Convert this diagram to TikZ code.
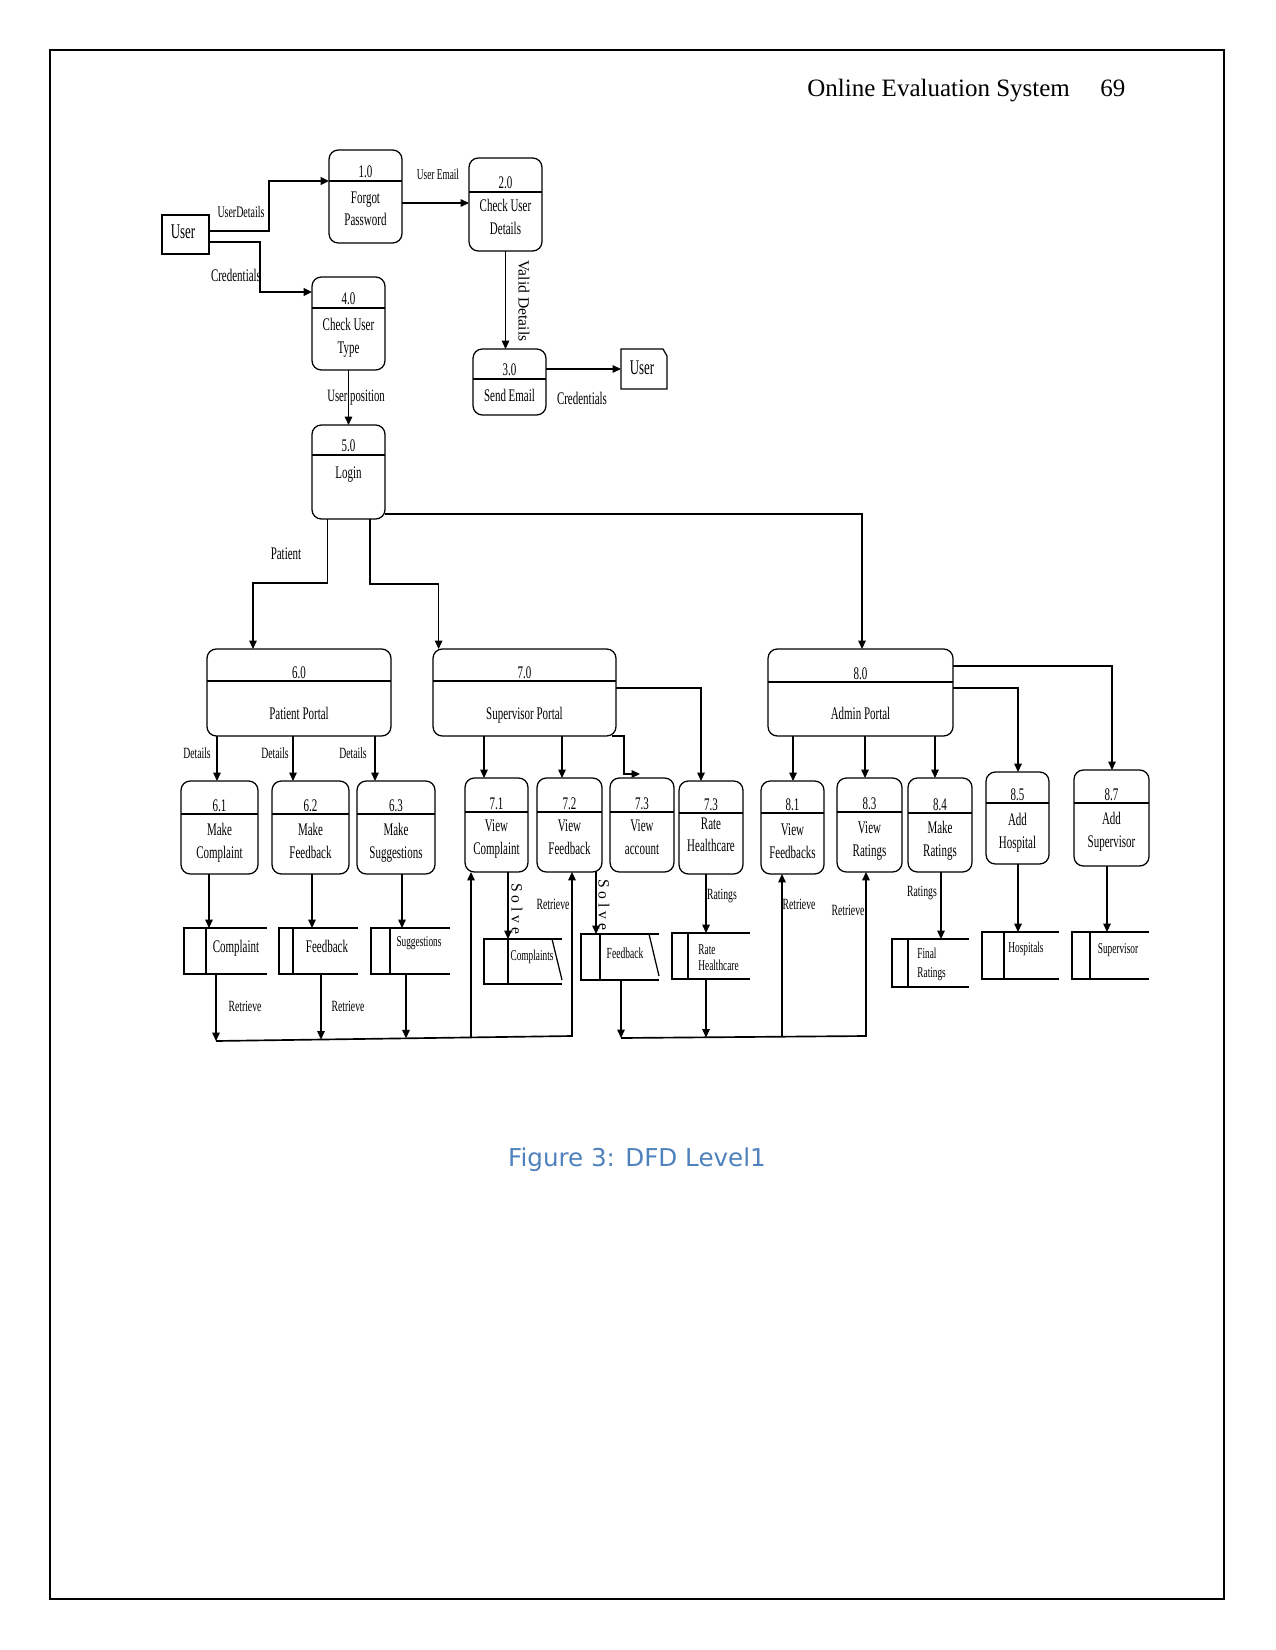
\documentclass[tikz,border=0pt]{standalone}
\usepackage{fontspec}
\setmainfont{Liberation Serif}
\newfontfamily\dfd[FakeStretch=0.62]{Liberation Serif}
\newfontfamily\capfont{DejaVu Sans}
\usetikzlibrary{fit,arrows.meta}
\definecolor{capblue}{RGB}{79,129,189}
\tikzset{
  pbox/.style={draw, rounded corners=4.5pt, inner sep=0pt, outer sep=0pt, line width=0.6pt},
  pdiv/.style={line width=0.6pt},
  ptxt/.style={font=\dfd\fontsize{8.5}{11}\selectfont, inner sep=0pt, align=center},
  stxt/.style={font=\dfd\fontsize{7.2}{8}\selectfont, inner sep=0pt, align=left},
  sbox/.style={line width=0.6pt},
  lbl/.style={font=\dfd\fontsize{7.5}{9}\selectfont, inner sep=0pt},
  lblb/.style={font=\dfd\fontsize{8.5}{10}\selectfont, inner sep=0pt},
  rlbl/.style={font=\fontsize{7.5}{9}\selectfont, inner sep=0pt, rotate=-90},
  flow/.style={-{Triangle[length=4pt,width=3.6pt]}, line width=0.5pt},
  tflow/.style={flow, line width=1.2pt},
  tline/.style={line width=1.2pt},
  mline/.style={line width=0.8pt},
}
% name x1 y1 x2 y2 ydiv number body yfirstline
\newcommand\dfdproc[9]{%
  \node[pbox, fit={(#2,#3)(#4,#5)}] (#1) {};
  \draw[pdiv] (#2,#6) -- (#4,#6);
  \node[ptxt, anchor=base] (#1-no) at ({(#2+#4)/2},{#6-3}) {#7};
  \node[ptxt, anchor=north] (#1-tx) at ({(#2+#4)/2},{#9-6}) {#8};
}
% name x1 y1 x2 y2 xinner
\newcommand\dfdstore[6]{%
  \node[fit={(#2,#3)(#4,#5)}, inner sep=0pt, outer sep=0pt] (#1) {};
  \draw[sbox] (#4,#3) -- (#2,#3) -- (#2,#5) -- (#4,#5);
  \draw[sbox] (#6,#3) -- (#6,#5);
}
\begin{document}
\begin{tikzpicture}[x=0.48pt,y=-0.48pt]
\useasboundingbox (0,0) rectangle (1275,1650);
\draw[line width=0.8pt] (50,50) rectangle (1224,1599);
\node[font=\fontsize{12}{14}\selectfont, anchor=base west, inner sep=0pt] (hdr) at (807,97) {Online Evaluation System};
\node[font=\fontsize{12}{14}\selectfont, anchor=base west, inner sep=0pt] (pgno) at (1100,97) {69};
\node[font=\capfont\fontsize{11.8}{14}\selectfont, text=capblue, anchor=base, inner sep=0pt] (cap) at (637,1166) {Figure 3: DFD Level1};

% external entities
\node[draw, line width=0.6pt, fit={(162,215)(209,254)}, inner sep=0pt, outer sep=0pt] (user) {};
\node[font=\dfd\fontsize{10}{12}\selectfont, inner sep=0pt] (user-tx) at (183,232) {User};
\node[fit={(621,349)(667,389)}, inner sep=0pt, outer sep=0pt] (user2) {};
\draw[line width=0.6pt] (663,349) -- (621,349) -- (621,389) -- (667,389) -- (667,356) -- cycle;
\node[font=\dfd\fontsize{10}{12}\selectfont, inner sep=0pt] (user2-tx) at (642,368) {User};

% processes
\dfdproc{p1}{329}{150}{402}{243}{181}{1.0}{Forgot\\Password}{197}
\dfdproc{p2}{469}{158}{542}{251}{192}{2.0}{Check User\\Details}{205}
\dfdproc{p4}{312}{277}{385}{370}{308}{4.0}{Check User\\Type}{324}
\dfdproc{p3}{473}{349}{546}{415}{379}{3.0}{Send Email}{395}
\dfdproc{p5}{312}{425}{385}{519}{455}{5.0}{Login}{472}
\dfdproc{p6}{207}{649}{391}{736}{681}{6.0}{Patient Portal}{713}
\dfdproc{p7}{433}{649}{616}{736}{681}{7.0}{Supervisor Portal}{713}
\dfdproc{p8}{768}{649}{953}{736}{682}{8.0}{Admin Portal}{713}
\dfdproc{p61}{181}{781}{258}{874}{814}{6.1}{Make\\Complaint}{829}
\dfdproc{p62}{272}{781}{349}{874}{814}{6.2}{Make\\Feedback}{829}
\dfdproc{p63}{357}{781}{435}{874}{814}{6.3}{Make\\Suggestions}{829}
\dfdproc{p71}{465}{778}{528}{872}{812}{7.1}{View\\Complaint}{825}
\dfdproc{p72}{537}{778}{602}{872}{812}{7.2}{View\\Feedback}{825}
\dfdproc{p73a}{610}{778}{674}{872}{812}{7.3}{View\\account}{825}
\dfdproc{p73b}{679}{781}{743}{874}{813}{7.3}{Rate\\Healthcare}{823}
\dfdproc{p81}{761}{781}{824}{874}{813}{8.1}{View\\Feedbacks}{829}
\dfdproc{p83}{837}{778}{902}{872}{812}{8.3}{View\\Ratings}{827}
\dfdproc{p84}{908}{778}{972}{872}{813}{8.4}{Make\\Ratings}{827}
\dfdproc{p85}{986}{772}{1049}{864}{803}{8.5}{Add\\Hospital}{819}
\dfdproc{p87}{1074}{770}{1149}{866}{803}{8.7}{Add\\Supervisor}{818}

% data stores
\dfdstore{s61}{184}{928}{267}{974}{206}
\dfdstore{s62}{279}{928}{358}{974}{293}
\dfdstore{s63}{371}{928}{450}{974}{390}
\dfdstore{s71}{484}{939}{562}{984}{508}
\dfdstore{s72}{581}{934}{659}{980}{600}
\dfdstore{s73}{672}{933}{750}{979}{688}
\dfdstore{s84}{892}{939}{969}{987}{908}
\dfdstore{s85}{982}{932}{1059}{979}{1004}
\dfdstore{s87}{1072}{932}{1149}{979}{1090}
\draw[sbox] (552,939) -- (562,980);
\draw[sbox] (649,934) -- (659,976);
\node[ptxt] (s61-tx) at (236,948) {Complaint};
\node[ptxt] (s62-tx) at (327,946) {Feedback};
\node[stxt] (s63-tx) at (419,943) {Suggestions};
\node[stxt] (s71-tx) at (532,957) {Complaints};
\node[stxt, font=\dfd\fontsize{7.4}{8}\selectfont] (s72-tx) at (625,953) {Feedback};
\node[stxt, anchor=north west] (s73-tx) at (698,944) {Rate\\Healthcare};
\node[stxt, font=\dfd\fontsize{7.2}{9}\selectfont, anchor=north west] (s84-tx) at (917,948) {Final\\Ratings};
\node[stxt] (s85-tx) at (1026,949) {Hospitals};
\node[stxt] (s87-tx) at (1118,950) {Supervisor};

% top connectors
\draw[tflow] (user.east |- 0,231) -| (269,181) -- (p1.west |- 0,181);
\draw[tflow] (user.east |- 0,242) -| (260,292) -- (p4.west |- 0,292);
\draw[flow] (p1.east |- 0,203) -- (p2.west |- 0,203);
\draw[flow] (p2.south) -- (p2.south |- p3.north);
\draw[flow] (p3.east |- 0,369) -- (user2.west |- 0,369);
\draw[flow] (p4.south) -- (p4.south |- p5.north);
\node[lbl, font=\dfd\fontsize{7.7}{9}\selectfont] (l-ud) at (241,212) {UserDetails};
\node[lblb] (l-cr1) at (236,275) {Credentials};
\node[lbl, font=\dfd\fontsize{7.2}{9}\selectfont] (l-ue) at (438,174) {User Email};
\node[rlbl] (l-vd) at (524,301) {Valid Details};
\node[lblb] (l-cr2) at (582,398) {Credentials};
\node[lblb, font=\dfd\fontsize{8.3}{10}\selectfont] (l-up) at (356,398) {User position};

% login to portals
\coordinate (j6) at (327.5,583);
\coordinate (j6b) at (253,583);
\draw[flow] (p5.south -| j6) -- (j6) -- (j6b) -- (p6.north -| j6b);
\draw[tline] (j6) -- (j6b);
\coordinate (j7) at (370,584);
\coordinate (j7b) at (438.6,584);
\draw[flow] (p5.south -| j7) -- (j7) -- (j7b) -- (p7.north -| j7b);
\coordinate (j8) at (862,514);
\draw[flow] (p5.east |- j8) -- (j8) -- (p8.north -| j8);
\draw[tline] (p5.east |- j8) -- (j8);
\node[lblb] (l-pat) at (286,554) {Patient};

% portals to sub-processes
\draw[flow] (p6.south -| 217,0) -- (p61.north -| 217,0);
\draw[flow] (p6.south -| 293,0) -- (p62.north -| 293,0);
\draw[flow] (p6.south -| 375,0) -- (p63.north -| 375,0);
\node[lbl] (l-d1) at (197,753) {Details};
\node[lbl] (l-d2) at (275,753) {Details};
\node[lbl] (l-d3) at (353,753) {Details};
\draw[flow] (p7.south -| 484,0) -- (p71.north -| 484,0);
\draw[flow] (p7.south -| 562,0) -- (p72.north -| 562,0);
\coordinate (j73) at (640,774);
\draw[flow] (p7.south -| 612,0) -| (624,774) -- (j73);
\draw[flow] (p7.east |- 0,688) -| (p73b.north -| 701,0);
\draw[flow] (p8.south -| 793,0) -- (p81.north -| 793,0);
\draw[flow] (p8.south -| 865,0) -- (p83.north -| 865,0);
\draw[flow] (p8.south -| 935,0) -- (p84.north -| 935,0);
\draw[flow] (p8.east |- 0,688) -| (p85.north -| 1018,0);
\coordinate (j87) at (1112,666);
\draw[flow] (p8.east |- j87) -- (j87) -- (p87.north -| j87);
\draw[tline] (p8.east |- j87) -- (j87);

% sub-processes to stores
\draw[flow] (p61.south -| 209,0) -- (s61.north -| 209,0);
\draw[flow] (p62.south -| 312,0) -- (s62.north -| 312,0);
\draw[flow] (p63.south -| 402,0) -- (s63.north -| 402,0);
\draw[flow] (p71.south -| 508,0) -- (s71.north -| 508,0);
\draw[flow] (p72.south -| 596,0) -- (s72.north -| 596,0);
\draw[flow] (p73b.south -| 706,0) -- (s73.north -| 706,0);
\draw[flow] (p84.south -| 941,0) -- (s84.north -| 941,0);
\draw[flow] (p85.south -| 1018,0) -- (s85.north -| 1018,0);
\draw[flow] (p87.south -| 1107,0) -- (s87.north -| 1107,0);
\node[rlbl] (l-sv1) at (517,909) {S o l v e};
\node[rlbl] (l-sv2) at (604,905) {S o l v e};
\node[lbl] (l-rt3) at (553,904) {Retrieve};
\node[lbl] (l-ra1) at (722,896) {Ratings};
\node[lbl] (l-ra2) at (922,893) {Ratings};

% retrieve loops, group 1
\coordinate (b1) at (216,1041);
\coordinate (b2) at (321,1039.5);
\coordinate (b3) at (406,1038.3);
\coordinate (b4) at (471,1037.4);
\coordinate (b5) at (572,1036);
\draw[flow] (s61.south -| b1) -- (b1);
\draw[flow] (s62.south -| b2) -- (b2);
\draw[flow] (s63.south -| b3) -- (b3);
\draw[flow, line width=0.8pt] (b1) -- (b5) -- (p72.south -| b5);
\draw[flow] (b4) -- (p71.south -| b4);
\node[lbl] (l-rt1) at (245,1006) {Retrieve};
\node[lbl] (l-rt2) at (348,1006) {Retrieve};

% retrieve loops, group 2
\coordinate (c1) at (621,1038);
\coordinate (c2) at (706,1037.5);
\coordinate (c3) at (782,1036.5);
\coordinate (c4) at (866,1036);
\draw[flow] (s72.south -| c1) -- (c1);
\draw[flow] (s73.south -| c2) -- (c2);
\draw[flow, line width=0.8pt] (c1) -- (c4) -- (p83.south -| c4);
\draw[flow] (c3) -- (p81.south -| c3);
\node[lbl] (l-rt4) at (799,904) {Retrieve};
\node[lbl] (l-rt5) at (848,910) {Retrieve};
\end{tikzpicture}
\end{document}
